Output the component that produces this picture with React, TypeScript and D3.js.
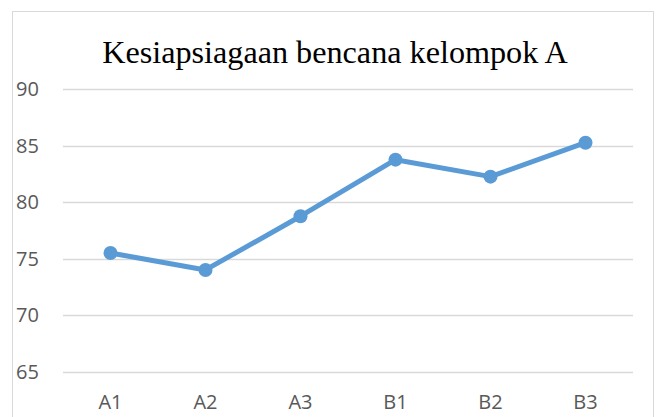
import React, { useRef, useEffect } from 'react';
import * as d3 from 'd3';

const categories = ['A1', 'A2', 'A3', 'B1', 'B2', 'B3'];
const values = [75.5, 74, 78.75, 83.75, 82.25, 85.25];
const yTicks = [65, 70, 75, 80, 85, 90];
const title = 'Kesiapsiagaan bencana kelompok A';

const W = 659;
const H = 417;

const LineChart: React.FC = () => {
  const ref = useRef<SVGSVGElement>(null);

  useEffect(() => {
    const svg = d3.select(ref.current);
    svg.selectAll('*').remove();

    svg.attr('width', W).attr('height', H);

    // chart frame
    svg.append('rect')
      .attr('x', 12.5).attr('y', 11.5)
      .attr('width', 641).attr('height', 420)
      .attr('fill', '#fff')
      .attr('stroke', '#d9d9d9');

    svg.append('text')
      .attr('x', 335).attr('y', 63)
      .attr('text-anchor', 'middle')
      .attr('font-family', '"Liberation Serif", "Times New Roman", serif')
      .attr('font-size', 32.2)
      .attr('fill', '#000')
      .text(title);

    const x = d3.scaleBand<string>().domain(categories).range([63, 633]);
    const y = d3.scaleLinear().domain([65, 90]).range([371.7, 89]);

    const grid = svg.append('g');
    grid.selectAll('line').data(yTicks).enter().append('line')
      .attr('x1', 63).attr('x2', 633)
      .attr('y1', d => Math.round(y(d)) + 0.5)
      .attr('y2', d => Math.round(y(d)) + 0.5)
      .attr('stroke', '#d9d9d9')
      .attr('stroke-width', 1.3);

    const labelFont = '"Open Sans", "Liberation Sans", sans-serif';

    svg.append('g').selectAll('text').data(yTicks).enter().append('text')
      .attr('x', 16)
      .attr('y', d => y(d))
      .attr('dy', '0.36em')
      .attr('font-family', labelFont)
      .attr('font-size', 20)
      .attr('fill', '#595959')
      .text(d => d);

    svg.append('g').selectAll('text').data(categories).enter().append('text')
      .attr('x', d => (x(d) ?? 0) + x.bandwidth() / 2)
      .attr('y', 402)
      .attr('dy', '0.36em')
      .attr('text-anchor', 'middle')
      .attr('font-family', labelFont)
      .attr('font-size', 20)
      .attr('fill', '#595959')
      .text(d => d);

    const cx = (i: number) => (x(categories[i]) ?? 0) + x.bandwidth() / 2;

    const line = d3.line<number>()
      .x((_, i) => cx(i))
      .y(d => y(d));

    svg.append('path')
      .datum(values)
      .attr('d', line)
      .attr('fill', 'none')
      .attr('stroke', '#5b9bd5')
      .attr('stroke-width', 5)
      .attr('stroke-linejoin', 'round');

    svg.append('g').selectAll('circle').data(values).enter().append('circle')
      .attr('cx', (_, i) => cx(i))
      .attr('cy', d => y(d))
      .attr('r', 7)
      .attr('fill', '#5b9bd5');
  }, []);

  return <svg ref={ref} style={{ position: 'absolute', left: 0, top: 0, display: 'block' }}></svg>;
};

export default function App() {
  return <LineChart />;
}
